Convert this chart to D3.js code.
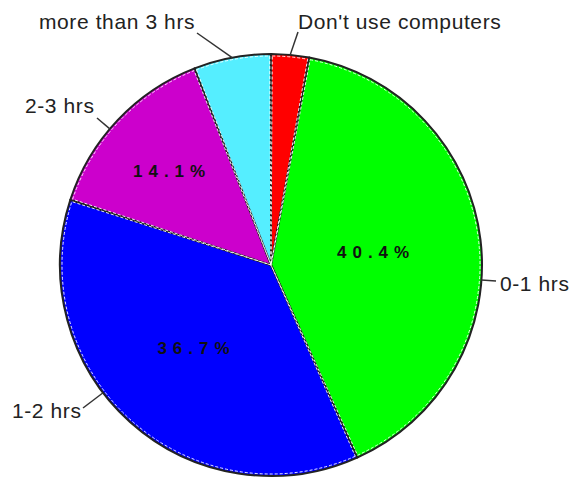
<!DOCTYPE html>
<html>
<head>
<meta charset="utf-8">
<script src="https://cdn.jsdelivr.net/npm/d3@7"></script>
<style>
  body { margin: 0; background: #fff; }
  svg { display: block; }
</style>
</head>
<body>
<div id="viz"></div>
<script>
// datos del gráfico (sentido horario desde arriba)
const categories = ["Don't use computers", "0-1 hrs", "1-2 hrs", "2-3 hrs", "more than 3 hrs"];
const values = [2.9, 40.4, 36.7, 14.1, 5.9];
const colors = ["#ff0000", "#00ff00", "#0000ff", "#cc00cc", "#55eeff"];
const showPct = [false, true, true, true, false];

const W = 580, H = 482;
const cx = 271, cy = 265, r = 211;

const svg = d3.select('#viz').append('svg')
  .attr('width', W).attr('height', H);

const g = svg.append('g').attr('transform', `translate(${cx},${cy})`);

const pie = d3.pie().sort(null).value(d => d.value);
const arcs = pie(categories.map((c, i) => ({name: c, value: values[i], color: colors[i], pct: showPct[i]})));

const arc = d3.arc().innerRadius(0).outerRadius(r);
const inner = d3.arc().innerRadius(0).outerRadius(r - 2).padAngle(0.012).padRadius(r);

// rebanadas
g.selectAll('path.slice').data(arcs).enter().append('path')
  .attr('class', 'slice')
  .attr('d', arc)
  .attr('fill', d => d.data.color)
  .attr('stroke', '#222')
  .attr('stroke-width', 2)
  .attr('stroke-linejoin', 'round');

// línea blanca punteada interior
g.selectAll('path.dash').data(arcs).enter().append('path')
  .attr('class', 'dash')
  .attr('d', inner)
  .attr('fill', 'none')
  .attr('stroke', '#fff')
  .attr('stroke-width', 0.9)
  .attr('stroke-dasharray', '3,2');

// porcentajes en el centroide del sector
const centroid = d => {
  const th = d.endAngle - d.startAngle;
  const dist = 4 * r * Math.sin(th / 2) / (3 * th);
  const a = (d.startAngle + d.endAngle) / 2;
  return [Math.sin(a) * dist, -Math.cos(a) * dist];
};
g.selectAll('text.pct').data(arcs.filter(d => d.data.pct)).enter().append('text')
  .attr('class', 'pct')
  .attr('transform', d => `translate(${centroid(d)})`)
  .attr('text-anchor', 'middle')
  .attr('dy', '0.35em')
  .attr('font-family', 'Liberation Sans, Arial, sans-serif')
  .attr('font-weight', 'bold')
  .attr('font-size', 17)
  .attr('letter-spacing', 6)
  .attr('fill', '#111')
  .text(d => d3.format('.1f')(d.data.value) + '%');

// etiquetas externas: posición del texto y punto de enganche de la guía
const labelPos = {
  "Don't use computers": {x: 298, y: 29, ax: 298, ay: 32},
  "0-1 hrs": {x: 500, y: 291, ax: 496, ay: 281},
  "1-2 hrs": {x: 12, y: 418, ax: 83, ay: 408},
  "2-3 hrs": {x: 25, y: 113, ax: 97, ay: 118},
  "more than 3 hrs": {x: 39, y: 29, ax: 197, ay: 33}
};

arcs.forEach(d => {
  const p = labelPos[d.data.name];
  let ang;
  if (d.endAngle - d.startAngle < 0.5) {
    ang = (d.startAngle + d.endAngle) / 2;
  } else {
    ang = Math.atan2(p.ax - cx, -(p.ay - cy));
  }
  const ex = Math.sin(ang) * r, ey = -Math.cos(ang) * r;
  g.append('line')
    .attr('x1', p.ax - cx).attr('y1', p.ay - cy)
    .attr('x2', ex).attr('y2', ey)
    .attr('stroke', '#333').attr('stroke-width', 1.5);
  svg.append('text')
    .attr('x', p.x).attr('y', p.y)
    .attr('font-family', 'Liberation Sans, Arial, sans-serif')
    .attr('font-size', 21)
    .attr('letter-spacing', 0.6)
    .attr('fill', '#222')
    .text(d.data.name);
});
</script>
</body>
</html>
